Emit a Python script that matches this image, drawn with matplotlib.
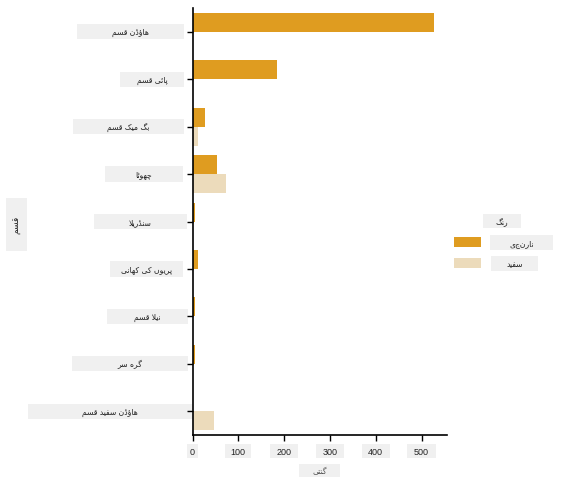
import matplotlib
matplotlib.use("Agg")
import matplotlib.pyplot as plt
import matplotlib.transforms as mtransforms
from matplotlib.patches import Rectangle
import numpy as np

# ڈیٹا: قسم کے لحاظ سے کدو کی گنتی، رنگ کے حساب سے
varieties = ["ہاؤڈن قسم", "پائی قسم", "بگ میک قسم", "چھوٹا", "سنڈریلا",
             "پریوں کی کہانی", "نیلا قسم", "گرہ سر", "ہاؤڈن سفید قسم"]
orange_counts = [528, 184, 27, 53, 5, 13, 5, 5, 0]
white_counts = [0, 2, 13, 73, 2, 2, 0, 0, 46]
color_names = ["نارنجی", "سفید"]
legend_title = "رنگ"
x_label = "گنتی"
y_label = "قسم"
x_ticks = [0, 100, 200, 300, 400, 500]

bar_colors = ["#df9c20", "#ecdbbb"]
box_color = "#f0f0f0"
W, H = 564, 489

# matplotlib عربی حروف کو نہیں جوڑتا، اس لیے یہاں سادہ شکل بندی
FORMS = {
    "ا": ("\uFE8D", "\uFE8E", None, None),
    "ب": ("\uFE8F", "\uFE90", "\uFE91", "\uFE92"),
    "پ": ("\uFB56", "\uFB57", "\uFB58", "\uFB59"),
    "ت": ("\uFE95", "\uFE96", "\uFE97", "\uFE98"),
    "ٹ": ("\uFB66", "\uFB67", "\uFB68", "\uFB69"),
    "چ": ("\uFB7A", "\uFB7B", "\uFB7C", "\uFB7D"),
    "د": ("\uFEA9", "\uFEAA", None, None),
    "ڈ": ("\uFB88", "\uFB89", None, None),
    "ر": ("\uFEAD", "\uFEAE", None, None),
    "ڑ": ("\uFB8C", "\uFB8D", None, None),
    "س": ("\uFEB1", "\uFEB2", "\uFEB3", "\uFEB4"),
    "ف": ("\uFED1", "\uFED2", "\uFED3", "\uFED4"),
    "ق": ("\uFED5", "\uFED6", "\uFED7", "\uFED8"),
    "ک": ("\uFB8E", "\uFB8F", "\uFB90", "\uFB91"),
    "گ": ("\uFB92", "\uFB93", "\uFB94", "\uFB95"),
    "ل": ("\uFEDD", "\uFEDE", "\uFEDF", "\uFEE0"),
    "م": ("\uFEE1", "\uFEE2", "\uFEE3", "\uFEE4"),
    "ن": ("\uFEE5", "\uFEE6", "\uFEE7", "\uFEE8"),
    "ں": ("\uFB9E", "\uFB9F", None, None),
    "و": ("\uFEED", "\uFEEE", None, None),
    "ؤ": ("\uFE85", "\uFE86", None, None),
    # DejaVu میں ہ کی کچھ شکلیں نہیں، عربی ہ کی شکلیں استعمال
    "ہ": ("\uFEE9", "\uFBA7", "\uFEEB", "\uFEEC"),
    "ھ": ("\uFBAA", "\uFBAB", "\uFBAC", "\uFBAD"),
    "ی": ("\uFBFC", "\uFBFD", "\uFBFE", "\uFBFF"),
    "ئ": ("\uFE89", "\uFE8A", "\uFE8B", "\uFE8C"),
}


def joins_next(c):
    return c in FORMS and FORMS[c][2] is not None


def shape(text):
    out = []
    i = 0
    while i < len(text):
        c = text[i]
        if c not in FORMS:
            out.append(c)
            i += 1
            continue
        prev_joins = i > 0 and joins_next(text[i - 1])
        if c == "ل" and i + 1 < len(text) and text[i + 1] == "ا":
            out.append("\uFEFC" if prev_joins else "\uFEFB")
            i += 2
            continue
        nxt = text[i + 1] if i + 1 < len(text) else None
        next_joins = joins_next(c) and nxt in FORMS
        iso, fin, ini, med = FORMS[c]
        if prev_joins and next_joins:
            g = med
        elif prev_joins:
            g = fin
        elif next_joins:
            g = ini
        else:
            g = iso
        out.append(g)
        i += 1
    return "".join(reversed(out))


fig = plt.figure(figsize=(W / 100, H / 100), dpi=100)
ax = fig.add_axes([192.5 / W, 1 - 436 / H, 254 / W, 427 / H])
ax.patch.set_alpha(0)

y = np.arange(len(varieties))
ax.barh(y - 0.2, orange_counts, height=0.4, color=bar_colors[0])
ax.barh(y + 0.2, white_counts, height=0.4, color=bar_colors[1])

ax.set_ylim(len(varieties) - 0.5, -0.5)
ax.set_xlim(0, max(orange_counts) * 1.05)
ax.set_yticks(y)
ax.set_yticklabels([])
ax.set_xticks(x_ticks)
ax.set_xticklabels([str(t) for t in x_ticks], fontsize=6.5,
                   family="Liberation Sans", color="#222222")
ax.tick_params(axis="both", length=4, width=1, color="black", pad=5)
for s in ["top", "right"]:
    ax.spines[s].set_visible(False)
for s in ["left", "bottom"]:
    ax.spines[s].set_linewidth(1.2)


def fig_box(x0, y0, x1, y1):
    fig.add_artist(Rectangle((x0 / W, 1 - y1 / H), (x1 - x0) / W, (y1 - y0) / H,
                             transform=fig.transFigure, facecolor=box_color,
                             edgecolor="none", zorder=-1))


# قسم کے لیبل، خانوں کے ساتھ
label_boxes = [(77, 184), (120, 184), (73, 184), (105, 183), (94, 187),
               (110, 183), (107, 188), (72, 188), (28, 192)]
ytrans = mtransforms.blended_transform_factory(fig.transFigure, ax.transData)
for i, (x0, x1) in enumerate(label_boxes):
    fig.add_artist(Rectangle((x0 / W, i - 0.16), (x1 - x0) / W, 0.32,
                             transform=ytrans, facecolor=box_color,
                             edgecolor="none", zorder=-1))
    fig.text((x0 + x1) / 2 / W, i, shape(varieties[i]), transform=ytrans,
             ha="center", va="center", fontsize=5.5, color="#222222",
             family="DejaVu Sans")

# x محور کے نشانات کے خانے
xbox_w = [24, 57, 60, 60, 62, 62]
xtrans = mtransforms.blended_transform_factory(ax.transData, fig.transFigure)
for t, w in zip(x_ticks, xbox_w):
    fig.add_artist(Rectangle((t - w / 2, 1 - 459 / H), w, 14 / H,
                             transform=xtrans, facecolor=box_color,
                             edgecolor="none", zorder=-1))

# محور کے عنوانات
fig_box(299, 465, 340, 478)
fig.text(320 / W, 1 - 471.5 / H, shape(x_label), ha="center", va="center",
         fontsize=5.5, color="#555555", family="DejaVu Sans")
fig_box(6, 199, 27, 252)
fig.text(16.5 / W, 1 - 225 / H, shape(y_label), ha="center", va="center",
         rotation=90, fontsize=6.5, color="#222222", family="DejaVu Sans")

# لیجنڈ
fig_box(483, 215, 521, 229)
fig.text(502 / W, 1 - 222 / H, shape(legend_title), ha="center", va="center",
         fontsize=5.5, color="#222222", family="DejaVu Sans")
entry_boxes = [(490, 236, 553, 251), (491, 257, 538, 272)]
handle_y = [(238, 248), (259, 269)]
for name, col, (bx0, by0, bx1, by1), (hy0, hy1) in zip(color_names, bar_colors,
                                                        entry_boxes, handle_y):
    fig.add_artist(Rectangle((454 / W, 1 - hy1 / H), 27 / W, (hy1 - hy0) / H,
                             transform=fig.transFigure, facecolor=col,
                             edgecolor="none"))
    fig_box(bx0, by0, bx1, by1)
    fig.text((bx0 + bx1) / 2 / W, 1 - (by0 + by1) / 2 / H, shape(name),
             ha="center", va="center", fontsize=5.5, color="#222222",
             family="DejaVu Sans")

fig.savefig("out.png", dpi=100)
